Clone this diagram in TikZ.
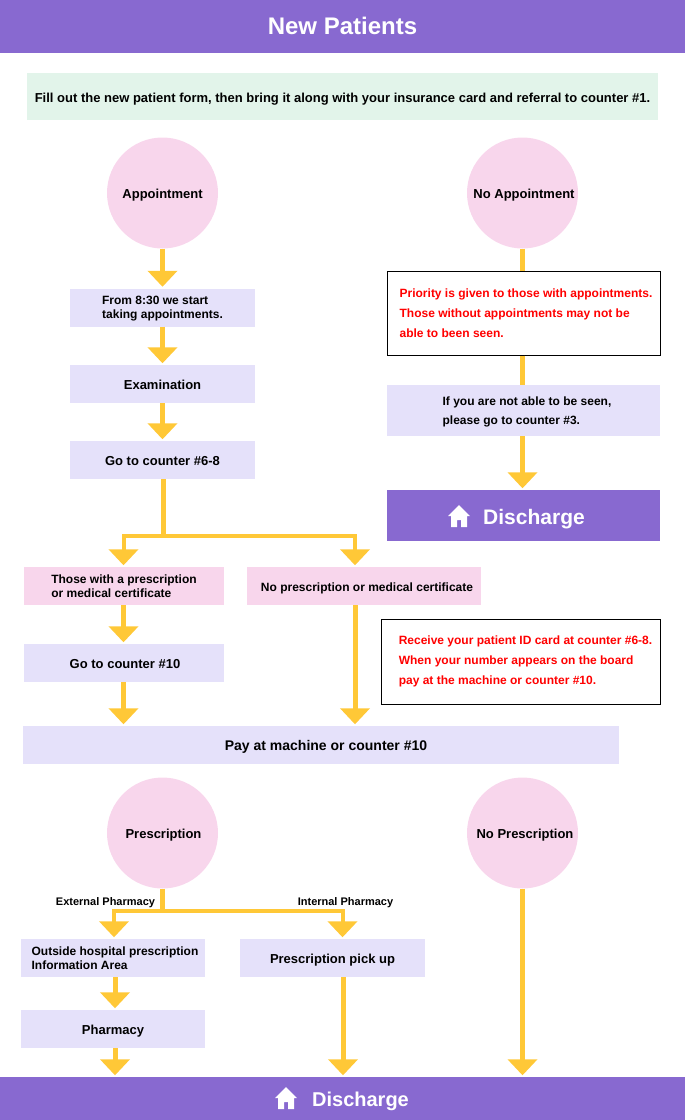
\documentclass[tikz,border=0pt]{standalone}
\usepackage{fontspec}
\setmainfont{Liberation Sans}
\usetikzlibrary{arrows.meta}

\definecolor{barpurple}{HTML}{8869D0}
\definecolor{boxlavender}{HTML}{E5E1FA}
\definecolor{boxpink}{HTML}{F8D6EC}
\definecolor{notegreen}{HTML}{E2F4EA}
\definecolor{flowyellow}{HTML}{FFC837}

\tikzset{
    x=1pt, y=-1pt,
    bar/.style={fill=barpurple, text=white, inner sep=0pt, font=\bfseries\fontsize{20}{24}\selectfont},
    round/.style={circle, fill=boxpink, minimum size=111pt, inner sep=0pt, text height=11pt, text depth=0pt, font=\bfseries\fontsize{13}{15}\selectfont},
    lav/.style={fill=boxlavender, inner sep=0pt, align=left, minimum height=38pt, text depth=0pt, font=\bfseries\fontsize{13}{15}\selectfont},
    small/.style={font=\bfseries\fontsize{12}{13.5}\selectfont},
    lone/.style={text height=11pt},
    pnk/.style={lav, fill=boxpink},
    warn/.style={draw=black, line width=1pt, fill=white, text=red, inner sep=0pt, align=left, font=\bfseries\fontsize{12}{20}\selectfont},
    lab/.style={inner sep=0pt, text depth=0pt, text height=10pt, font=\bfseries\fontsize{11}{12}\selectfont},
    line/.style={draw=flowyellow, line width=5pt},
    flow/.style={line, -{Triangle[width=29pt,length=16pt]}, shorten >=1.5pt},
    flowthin/.style={flow, line width=4pt}
}

\newcommand{\houseicon}[2]{
    \fill[white, shift={(#1,#2)}] (0,0) -- (11,11) -- (8,11) -- (8,22) -- (2,22) -- (2,15) -- (-2,15) -- (-2,22) -- (-8,22) -- (-8,11) -- (-11,11) -- cycle;
}

\begin{document}
\begin{tikzpicture}
    \useasboundingbox (0,0) rectangle (685,1120);

    % Bars
    \node[bar, minimum width=685pt, minimum height=53pt, font=\bfseries\fontsize{24}{28}\selectfont] (title) at (342.5,26) {New Patients};
    \node[fill=notegreen, inner sep=0pt, minimum width=631pt, minimum height=47pt, text height=11pt, text depth=0pt, font=\bfseries\fontsize{13}{15}\selectfont] (note) at (342.5,96.5) {Fill out the new patient form, then bring it along with your insurance card and referral to counter \#1.};

    % Appointment
    \node[round] (appt) at (162.5,193) {Appointment};
    \node[lav, small, minimum width=185pt] (start) at (162.5,307.5) {From 8:30 we start\\taking appointments.};
    \node[lav, lone, minimum width=185pt] (exam) at (162.5,384) {Examination};
    \node[lav, lone, minimum width=185pt] (c68) at (162.5,460) {Go to counter \#6-8};

    % No appointment
    \node[round] (noappt) at (522.5,193) {\hspace*{3pt}No Appointment};
    \node[warn, minimum width=273pt, minimum height=84pt] (prio) at (523.5,313) {\hspace*{5pt}Priority is given to those with appointments.\\\hspace*{5pt}Those without appointments may not be\\\hspace*{5pt}able to been seen.};
    \node[lav, minimum width=273pt, minimum height=51pt, font=\bfseries\fontsize{12}{19}\selectfont] (c3) at (523.5,410.5) {\hspace*{7pt}If you are not able to be seen,\\\hspace*{7pt}please go to counter \#3.};
    \node[bar, minimum width=273pt, minimum height=51pt, text height=17pt, text depth=0pt, font=\bfseries\fontsize{21}{24}\selectfont] (dis1) at (523.5,515.5) {\hspace*{21pt}Discharge};

    % Prescription or not
    \node[pnk, small, minimum width=200pt] (withrx) at (124,586) {Those with a prescription\\or medical certificate};
    \node[pnk, small, lone, minimum width=234pt] (norx) at (364,586) {\hspace*{6pt}No prescription or medical certificate};
    \node[lav, lone, minimum width=200pt] (c10) at (124,663) {\hspace*{2pt}Go to counter \#10};
    \node[warn, minimum width=279pt, minimum height=85pt] (idcard) at (520.5,661.5) {\hspace*{10pt}Receive your patient ID card at counter \#6-8.\\\hspace*{10pt}When your number appears on the board\\\hspace*{10pt}pay at the machine or counter \#10.};
    \node[lav, lone, minimum width=596pt, font=\bfseries\fontsize{14}{16}\selectfont] (pay) at (321,745) {\hspace*{10pt}Pay at machine or counter \#10};

    % Pharmacy
    \node[round] (rx) at (162.5,833) {\hspace*{2pt}Prescription};
    \node[round] (nopres) at (522.5,833) {\hspace*{5pt}No Prescription};
    \node[lav, small, minimum width=184pt] (outside) at (113,958) {\hspace*{4pt}Outside hospital prescription\\\hspace*{4pt}Information Area};
    \node[lav, lone, minimum width=185pt] (pickup) at (332.5,958) {Prescription pick up};
    \node[lav, lone, minimum width=184pt] (pharm) at (113,1029) {Pharmacy};
    \node[lab] (extlab) at (105.5,900) {External Pharmacy};
    \node[lab] (intlab) at (345.5,900) {Internal Pharmacy};
    \node[bar, minimum width=685pt, minimum height=43pt, text height=16pt, text depth=0pt] (dis2) at (342.5,1098.5) {\hspace*{36pt}Discharge};

    % Branch points
    \coordinate (split1) at (163,536);
    \coordinate (split1l) at (123.5,536);
    \coordinate (split1r) at (355,536);
    \coordinate (split2) at (162.5,911);
    \coordinate (split2l) at (114,911);
    \coordinate (split2r) at (342.5,911);
    \coordinate (out1) at (115,977);
    \coordinate (out2) at (343,977);

    % Connectors
    \draw[flow] (appt) -- (start);
    \draw[flow] (start) -- (exam);
    \draw[flow] (exam) -- (c68);
    \draw[line] (noappt) -- (prio.north -| noappt);
    \draw[line] (prio.south -| noappt) -- (c3.north -| noappt);
    \draw[flow] (c3.south -| noappt) -- (dis1.north -| noappt);

    \draw[line] (c68.south -| split1) -- (split1);
    \draw[flowthin] (split1) -- (split1l) -- (withrx.north -| split1l);
    \draw[flowthin] (split1) -- (split1r) -- (norx.north -| split1r);
    \draw[flow] (withrx.south -| split1l) -- (c10.north -| split1l);
    \draw[flow] (c10.south -| split1l) -- (pay.north -| split1l);
    \draw[flow] (norx.south -| split1r) -- (pay.north -| split1r);

    \draw[line] (rx) -- (split2);
    \draw[flowthin] (split2) -- (split2l) -- (outside.north -| split2l);
    \draw[flowthin] (split2) -- (split2r) -- (pickup.north -| split2r);
    \draw[flow] (out1) -- (pharm.north -| out1);
    \draw[flow] (pharm.south -| out1) -- (dis2.north -| out1);
    \draw[flow] (out2) -- (dis2.north -| out2);
    \draw[flow] (nopres) -- (dis2.north -| nopres);

    % House icons
    \houseicon{459}{505}
    \houseicon{286}{1087}
\end{tikzpicture}
\end{document}
